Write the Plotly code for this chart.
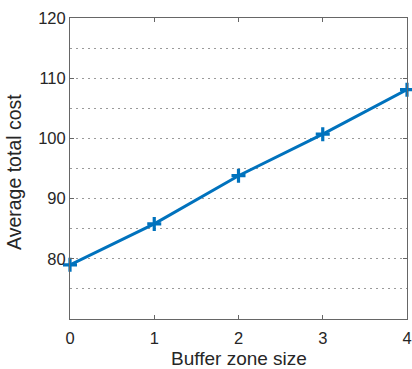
import plotly.graph_objects as go

buffer_size = [0, 1, 2, 3, 4]
avg_cost = [79.0, 85.8, 93.8, 100.7, 108.1]
x_ticks = [0, 1, 2, 3, 4]
y_ticks = [80, 90, 100, 110, 120]
x_title = "Buffer zone size"
y_title = "Average total cost"

fig = go.Figure()
fig.add_trace(go.Scatter(
    x=buffer_size, y=avg_cost, mode="lines+markers",
    line=dict(color="#0072BD", width=3),
    marker=dict(symbol="cross-thin", size=10, line=dict(color="#0072BD", width=3.2)),
    cliponaxis=False,
))

font = "Liberation Sans, Arial, sans-serif"
txt = "#262626"
grid = dict(gridcolor="#9a9a9a", griddash="1.5px,4.5px", gridwidth=1)
fig.update_layout(
    width=412, height=369,
    margin=dict(l=70, r=5, t=18, b=50),
    paper_bgcolor="white", plot_bgcolor="white",
    showlegend=False,
    font=dict(family=font, color=txt),
)
fig.update_xaxes(
    range=[0, 4], tickvals=x_ticks, ticks="inside", ticklen=4, tickcolor="#666",
    showline=True, linecolor="#666", linewidth=1, mirror="ticks",
    showgrid=False, zeroline=False, automargin=False, ticklabelstandoff=4,
    tickfont=dict(size=16.5, family=font, color=txt),
)
fig.update_yaxes(
    range=[70, 120], tickvals=y_ticks, ticks="inside", ticklen=4, tickcolor="#666",
    showline=True, linecolor="#666", linewidth=1, mirror="ticks",
    showgrid=True, zeroline=False, automargin=False, **grid,
    minor=dict(dtick=5, tick0=70, showgrid=True, ticks="", **grid),
    tickfont=dict(size=16.5, family=font, color=txt),
)
title_font = dict(size=19, family=font, color=txt)
fig.add_annotation(text=x_title, xref="paper", yref="paper", x=0.5, y=0,
                   xanchor="center", yanchor="bottom", yshift=-51, borderpad=0,
                   showarrow=False, font=title_font)
fig.add_annotation(text=y_title, xref="paper", yref="paper", x=0, y=0.5,
                   xanchor="center", yanchor="middle", xshift=-56, yshift=-3.5,
                   textangle=-90, showarrow=False, font=dict(size=19.5, family=font, color=txt))

fig.write_html(
    "out.html",
    config={"displayModeBar": False},
    post_script="document.body.style.margin='0';document.body.style.overflow='hidden';",
)
